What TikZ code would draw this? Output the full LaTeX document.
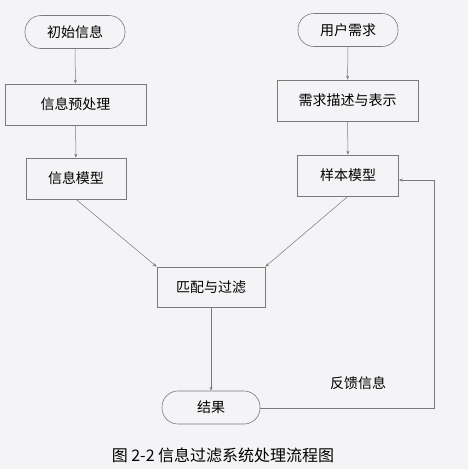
\documentclass[tikz,border=0pt]{standalone}
\usepackage{fontspec}
\setmainfont{Noto Sans CJK SC}
\usetikzlibrary{arrows.meta}
\definecolor{bg}{HTML}{F4F4F6}
\definecolor{ln}{HTML}{7A7A7A}
\begin{document}
\begin{tikzpicture}[x=1pt,y=-1pt,
  box/.style={draw=ln,line width=0.6pt,fill=bg,minimum height=41pt,inner sep=0pt,font=\fontsize{14}{14}\selectfont},
  term/.style={draw=ln,line width=0.6pt,fill=bg,rounded corners=16pt,minimum width=100pt,minimum height=33pt,inner sep=0pt,font=\fontsize{14}{14}\selectfont},
  arr/.style={draw=ln,line width=0.5pt,-{Stealth[length=4pt,width=3pt]}}]
\fill[bg] (0,0) rectangle (468,469);
\useasboundingbox (0,0) rectangle (468,469);
\node[term] (a) at (75,32) {初始信息};
\node[box,minimum width=141pt] (b) at (75.5,104.5) {信息预处理};
\node[box,minimum width=100pt] (c) at (76,178.5) {信息模型};
\node[term] (d) at (348,30) {用户需求};
\node[box,minimum width=141pt] (e) at (347.5,100.5) {需求描述与表示};
\node[box,minimum width=101pt] (f) at (348,175.5) {样本模型};
\node[box,minimum width=108pt,minimum height=40pt] (g) at (211,287) {匹配与过滤};
\node[term,minimum width=98pt] (h) at (211,407.5) {结果};
\coordinate (fb1) at (434,408);
\coordinate (fb2) at (434,180);
\draw[arr] (a) -- (b);
\draw[arr] (b) -- (c);
\draw[arr] (d) -- (e);
\draw[arr] (e) -- (f);
\draw[arr] (c.south) -- (g.north west);
\draw[arr] (f.south) -- (g.north east);
\draw[arr] (g) -- (h);
\draw[arr] (h.east |- fb1) -- (fb1) -- (fb2) -- (f.east |- fb2);
\node[font=\fontsize{14}{14}\selectfont] (lbl) at (358,383) {反馈信息};
\node[font=\fontsize{16}{16}\selectfont] (cap) at (223,455) {图 2-2 信息过滤系统处理流程图};
\end{tikzpicture}
\end{document}
